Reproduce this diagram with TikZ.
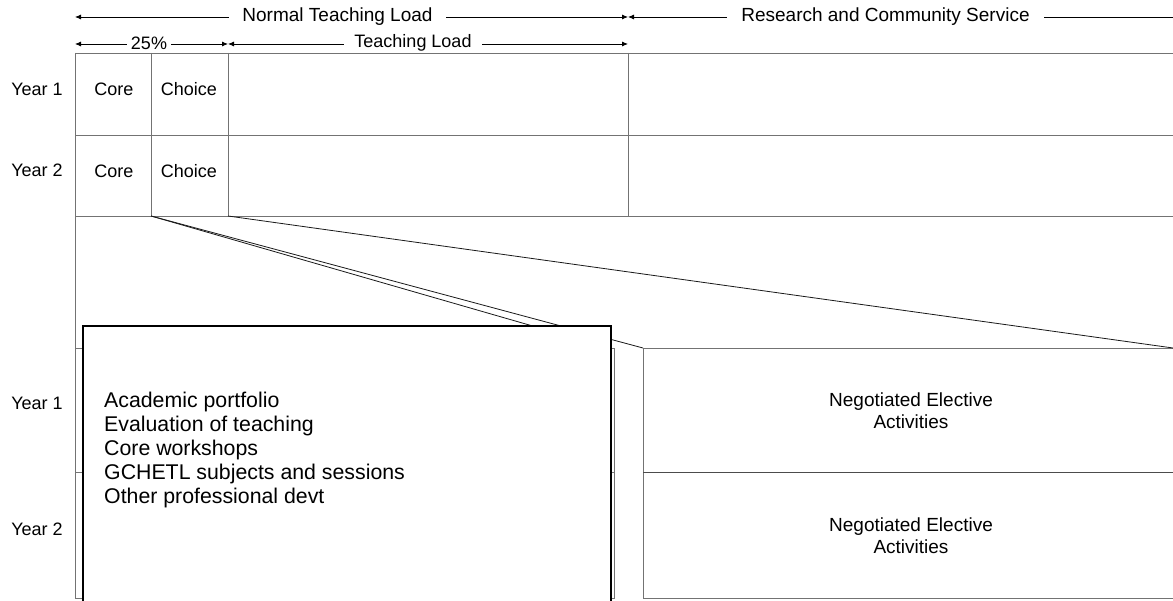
\documentclass[tikz,border=0pt]{standalone}
\usepackage{fontspec}
\setmainfont{Liberation Sans}
\usetikzlibrary{arrows.meta}
\begin{document}
\begin{tikzpicture}[x=1pt,y=-1pt,
  grid/.style={draw=black!55, line width=0.9pt},
  thin line/.style={draw=black!90, line width=0.8pt},
  lbl/.style={font=\fontsize{18}{20}\selectfont, inner sep=0pt},
  biglbl/.style={font=\fontsize{19}{21}\selectfont, inner sep=0pt},
  gaplbl/.style={fill=white, inner ysep=2pt},
  boxtext/.style={font=\fontsize{21.3}{24}\selectfont, align=left, inner sep=0pt, anchor=north west},
  dimline/.style={line width=0.8pt, draw=black},
  tipLR/.style={{Latex[length=6pt,width=5pt]}-{Latex[length=6pt,width=5pt]}}]
\clip (0,0) rectangle (1173,601);
\fill[white] (0,0) rectangle (1173,601);

% ---------- dimension lines ----------
\coordinate (a1) at (75,17);
\coordinate (b1) at (628,17);
\coordinate (c1) at (1179,17);
\coordinate (a2) at (75,44);
\coordinate (b2) at (228,44);
\coordinate (c2) at (628,44);
\draw[dimline, tipLR] (a1) -- (b1);
\draw[dimline, tipLR] (b1) -- (c1);
\draw[dimline, tipLR] (a2) -- (b2);
\draw[dimline, tipLR] (b2) -- (c2);
\node[biglbl, gaplbl, inner xsep=13pt] (ntl) at (337.5,17) {Normal Teaching Load};
\node[biglbl, gaplbl, inner xsep=14pt] (rcs) at (885.5,17) {Research and Community Service};
\node[lbl, gaplbl, inner xsep=4pt] (pct) at (149,43) {25\%};
\node[lbl, gaplbl, inner xsep=10pt] (tl) at (413,43) {Teaching Load};

% ---------- upper table ----------
\draw[grid] (75,53) -- (1173,53);
\draw[grid] (75,135) -- (1173,135);
\draw[grid] (75,216) -- (1173,216);
\draw[grid] (75,53) -- (75,598);
\draw[grid] (151,53) -- (151,216);
\draw[grid] (228,53) -- (228,216);
\draw[grid] (628,53) -- (628,216);

\node[lbl] (y1a) at (37,89) {Year 1};
\node[lbl] (y2a) at (37,170) {Year 2};
\node[lbl] (core1) at (114,89) {Core};
\node[lbl] (choice1) at (189,89) {Choice};
\node[lbl] (core2) at (114,171) {Core};
\node[lbl] (choice2) at (189,171) {Choice};

% ---------- lower tables ----------
\coordinate (cc) at (151,216);
\coordinate (ch) at (228,216);
\coordinate (lr) at (609,348);
\coordinate (rl) at (643,348);
\coordinate (rr) at (1173,348);

\draw[grid] (75,348) rectangle (614,598);
\draw[grid] (75,472) -- (614,472);
\draw[grid] (643,348) -- (1173,348);
\draw[grid] (643,348) -- (643,598) -- (1173,598);
\draw[draw=black!70, line width=0.9pt] (643,472) -- (1173,472);

\draw[thin line] (cc) -- (rl);
\draw[thin line] (cc) -- (lr);
\draw[thin line] (ch) -- (rr);

\node[lbl] (y1b) at (37,403) {Year 1};
\node[lbl] (y2b) at (37,529) {Year 2};

\node[align=center, inner sep=0pt, font=\fontsize{19}{22}\selectfont] (nea1) at (911,411) {Negotiated Elective\\Activities};
\node[align=center, inner sep=0pt, font=\fontsize{19}{22}\selectfont] (nea2) at (911,536) {Negotiated Elective\\Activities};

% ---------- overlay box ----------
\draw[fill=white, draw=black, line width=1.8pt] (83,326) rectangle (611,612);
\node[boxtext] (list) at (104,392) {Academic portfolio\\Evaluation of teaching\\Core workshops\\GCHETL subjects and sessions\\Other professional devt};
\end{tikzpicture}
\end{document}
